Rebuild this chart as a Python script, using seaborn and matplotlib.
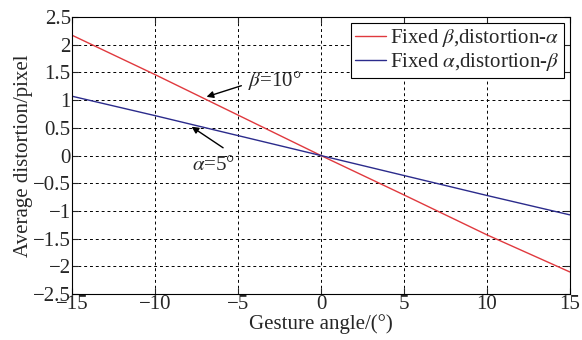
import numpy as np
import matplotlib.pyplot as plt
import pandas as pd
import seaborn as sns

sns.set_style("ticks")
plt.rcParams['font.family'] = ['Liberation Serif', 'DejaVu Serif']
plt.rcParams['mathtext.fontset'] = 'stix'

# datos
angulo = [-15, -10, -5, 0, 5, 10, 15]
fijo_beta = [2.17, 1.46, 0.73, 0, -0.71, -1.43, -2.10]
fijo_alpha = [1.07, 0.72, 0.36, 0, -0.36, -0.72, -1.07]
etiquetas = [r'Fixed $\beta$,distortion-$\alpha$', r'Fixed $\alpha$,distortion-$\beta$']
colores = ['#e0393e', '#2b2b8c']

df = pd.DataFrame({
    'x': angulo * 2,
    'y': fijo_beta + fijo_alpha,
    'serie': [etiquetas[0]] * len(angulo) + [etiquetas[1]] * len(angulo),
})

fig = plt.figure(figsize=(5.82, 3.40), dpi=100)
ax = fig.add_axes([0.124, 0.135, 0.855, 0.815])

sns.lineplot(data=df, x='x', y='y', hue='serie', palette=colores, linewidth=1.0, ax=ax)

fs = 15
ax.set_xlim(-15, 15)
ax.set_ylim(-2.5, 2.5)
ax.set_xticks(np.arange(-15, 16, 5))
ax.set_yticks(np.arange(-2.5, 2.6, 0.5))
ax.set_yticklabels(['\u22122.5', '\u22122', '\u22121.5', '\u22121', '\u22120.5', '0', '0.5', '1', '1.5', '2', '2.5'])
ax.set_xticklabels(['\u221215', '\u221210', '\u22125', '0', '5', '10', '15'])
ax.grid(True, color='black', linestyle=(0, (3, 3)), linewidth=0.7)
ax.tick_params(direction='in', top=True, right=True, labelsize=fs, length=4, pad=1)
for s in ax.spines.values():
    s.set_color('black')
    s.set_linewidth(0.8)

ax.set_xlabel('Gesture angle/(°)', fontsize=fs, labelpad=0)
ax.set_ylabel('Average distortion/pixel', fontsize=fs, labelpad=0)

leg = ax.legend(loc='upper right', fontsize=fs, frameon=True, fancybox=False,
                framealpha=1, edgecolor='black', handlelength=1.5, handletextpad=0.2,
                borderpad=0.2, labelspacing=0.1, borderaxespad=0.3)
leg.get_frame().set_linewidth(0.8)

flecha = dict(arrowstyle='-|>', color='black', lw=1, mutation_scale=10, shrinkA=0, shrinkB=0)
ax.annotate('', xy=(-6.9, 1.06), xytext=(-4.8, 1.26), arrowprops=flecha)
ax.text(-4.4, 1.36, r'$\beta$=10°', fontsize=fs, va='center', ha='left')
ax.annotate('', xy=(-7.8, 0.52), xytext=(-5.9, 0.14), arrowprops=flecha)
ax.text(-6.5, -0.18, r'$\alpha$=5°', fontsize=fs, va='center', ha='center')

plt.savefig('out.png', dpi=100)
